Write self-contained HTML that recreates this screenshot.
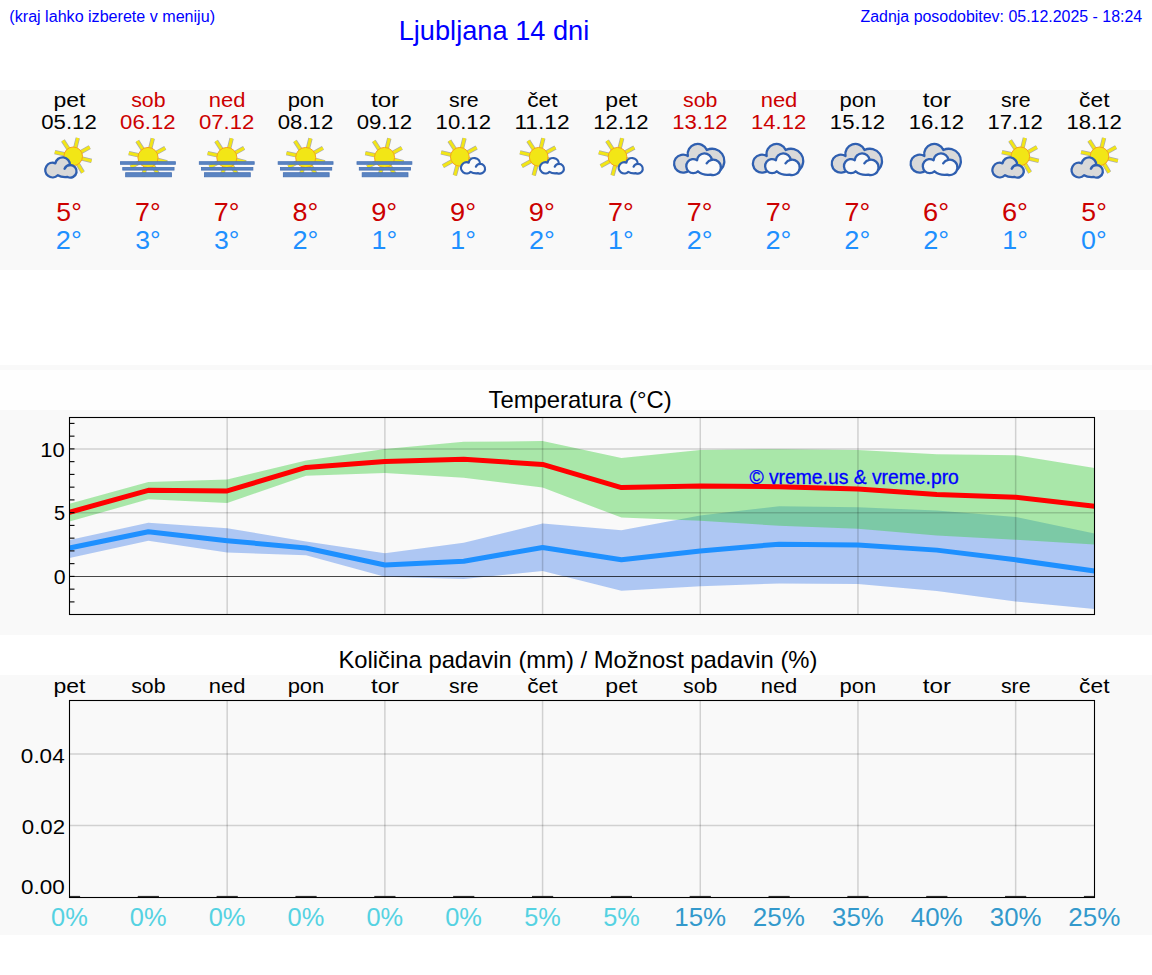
<!DOCTYPE html>
<html><head><meta charset="utf-8"><title>Ljubljana 14 dni</title>
<style>
html,body{margin:0;padding:0;background:#fff;width:1152px;height:975px;overflow:hidden}
svg{display:block;font-family:"Liberation Sans",sans-serif}
</style></head><body>
<svg width="1152" height="975" viewBox="0 0 1152 975">
<rect x="0" y="90" width="1152" height="180" fill="#f9f9f9"/>
<rect x="0" y="365" width="1152" height="5" fill="#f9f9f9"/>
<rect x="0" y="370" width="1152" height="40" fill="#fefefe"/>
<rect x="0" y="410" width="1152" height="225" fill="#f9f9f9"/>
<rect x="0" y="675" width="1152" height="260" fill="#f9f9f9"/>
<text x="9.39" y="21.60" font-size="16" fill="#0000ff" textLength="205.63" lengthAdjust="spacingAndGlyphs">(kraj lahko izberete v meniju)</text>
<text x="398.70" y="39.50" font-size="27.2" fill="#0000ff" textLength="190.57" lengthAdjust="spacingAndGlyphs">Ljubljana 14 dni</text>
<text x="860.50" y="21.50" font-size="16" fill="#0000ff" textLength="281.68" lengthAdjust="spacingAndGlyphs">Zadnja posodobitev: 05.12.2025 - 18:24</text>
<text x="53.45" y="106.80" font-size="20.0" fill="#000000" textLength="32.03" lengthAdjust="spacingAndGlyphs">pet</text>
<text x="41.27" y="128.90" font-size="20.0" fill="#000000" textLength="55.45" lengthAdjust="spacingAndGlyphs">05.12</text>
<text x="56.33" y="221.10" font-size="25.1" fill="#cc0000" textLength="25.45" lengthAdjust="spacingAndGlyphs">5°</text>
<text x="55.89" y="248.90" font-size="25.1" fill="#1e90ff" textLength="25.92" lengthAdjust="spacingAndGlyphs">2°</text>
<g transform="translate(0.00,0)">
<path d="M80.42 152.30L89.73 147.14 M75.20 148.30L77.77 137.96 M68.71 149.38L62.91 140.45 M65.16 154.44L54.78 152.05 M65.98 160.30L56.67 165.46 M71.06 164.27L68.31 174.56 M77.45 163.37L82.93 172.50 M81.20 158.30L91.54 160.87" stroke="#7a7a7a" stroke-opacity="0.6" stroke-width="4.4" fill="none"/>
<path d="M80.42 152.30L89.73 147.14 M75.20 148.30L77.77 137.96 M68.71 149.38L62.91 140.45 M65.16 154.44L54.78 152.05 M65.98 160.30L56.67 165.46 M71.06 164.27L68.31 174.56 M77.45 163.37L82.93 172.50 M81.20 158.30L91.54 160.87" stroke="#f2e616" stroke-width="2.9" fill="none"/>
<circle cx="73.20" cy="156.30" r="9.30" fill="#f2e616" stroke="#f4a21c" stroke-width="1"/>
<path d="M57.76,175.26 A7.30 7.30 0 1 1 55.33,163.33 A7.40 7.40 0 0 1 69.99,165.01 A6.30 6.30 0 1 1 67.64,177.01 Q61.50,177.70 57.76,175.26Z" fill="#d9d9d9" stroke="#2f5fb0" stroke-width="2.4" stroke-linejoin="round"/><path d="M69.99,165.01 A6.30 6.30 0 0 0 64.59,168.64" fill="none" stroke="#2f5fb0" stroke-width="2.4" stroke-linecap="round"/>
</g>
<text x="131.20" y="107.00" font-size="19.8" fill="#cc0000" textLength="34.33" lengthAdjust="spacingAndGlyphs">sob</text>
<text x="120.12" y="128.90" font-size="20.0" fill="#cc0000" textLength="55.45" lengthAdjust="spacingAndGlyphs">06.12</text>
<text x="134.95" y="221.00" font-size="25.1" fill="#cc0000" textLength="25.69" lengthAdjust="spacingAndGlyphs">7°</text>
<text x="135.18" y="249.00" font-size="25.1" fill="#1e90ff" textLength="25.45" lengthAdjust="spacingAndGlyphs">3°</text>
<g transform="translate(-0.05,0)">
<path d="M155.92 153.14L165.28 147.95 M150.23 148.77L152.82 138.39 M143.15 149.95L137.32 140.98 M139.28 155.48L128.85 153.07 M140.18 161.86L130.82 167.05 M145.72 166.19L142.95 176.53 M152.69 165.21L158.20 174.39 M156.78 159.68L167.16 162.27" stroke="#7a7a7a" stroke-opacity="0.6" stroke-width="4.4" fill="none"/>
<path d="M155.92 153.14L165.28 147.95 M150.23 148.77L152.82 138.39 M143.15 149.95L137.32 140.98 M139.28 155.48L128.85 153.07 M140.18 161.86L130.82 167.05 M145.72 166.19L142.95 176.53 M152.69 165.21L158.20 174.39 M156.78 159.68L167.16 162.27" stroke="#f2e616" stroke-width="2.9" fill="none"/>
<circle cx="148.05" cy="157.50" r="10.05" fill="#f2e616" stroke="#f4a21c" stroke-width="1"/>
<rect x="120.5" y="161.7" width="54.9" height="2.6" fill="#5a84c2" stroke="#4872b4" stroke-width="0.8"/>
<rect x="122.8" y="167.5" width="51.3" height="2.6" fill="#5a84c2" stroke="#4872b4" stroke-width="0.8"/>
<rect x="125.7" y="172.7" width="45.8" height="4.1" fill="#5a84c2" stroke="#4872b4" stroke-width="0.8"/>
</g>
<text x="208.80" y="107.00" font-size="19.8" fill="#cc0000" textLength="36.62" lengthAdjust="spacingAndGlyphs">ned</text>
<text x="198.97" y="128.90" font-size="20.0" fill="#cc0000" textLength="55.45" lengthAdjust="spacingAndGlyphs">07.12</text>
<text x="213.79" y="221.00" font-size="25.1" fill="#cc0000" textLength="25.69" lengthAdjust="spacingAndGlyphs">7°</text>
<text x="214.02" y="249.00" font-size="25.1" fill="#1e90ff" textLength="25.45" lengthAdjust="spacingAndGlyphs">3°</text>
<g transform="translate(78.79,0)">
<path d="M155.92 153.14L165.28 147.95 M150.23 148.77L152.82 138.39 M143.15 149.95L137.32 140.98 M139.28 155.48L128.85 153.07 M140.18 161.86L130.82 167.05 M145.72 166.19L142.95 176.53 M152.69 165.21L158.20 174.39 M156.78 159.68L167.16 162.27" stroke="#7a7a7a" stroke-opacity="0.6" stroke-width="4.4" fill="none"/>
<path d="M155.92 153.14L165.28 147.95 M150.23 148.77L152.82 138.39 M143.15 149.95L137.32 140.98 M139.28 155.48L128.85 153.07 M140.18 161.86L130.82 167.05 M145.72 166.19L142.95 176.53 M152.69 165.21L158.20 174.39 M156.78 159.68L167.16 162.27" stroke="#f2e616" stroke-width="2.9" fill="none"/>
<circle cx="148.05" cy="157.50" r="10.05" fill="#f2e616" stroke="#f4a21c" stroke-width="1"/>
<rect x="120.5" y="161.7" width="54.9" height="2.6" fill="#5a84c2" stroke="#4872b4" stroke-width="0.8"/>
<rect x="122.8" y="167.5" width="51.3" height="2.6" fill="#5a84c2" stroke="#4872b4" stroke-width="0.8"/>
<rect x="125.7" y="172.7" width="45.8" height="4.1" fill="#5a84c2" stroke="#4872b4" stroke-width="0.8"/>
</g>
<text x="287.65" y="107.00" font-size="19.4" fill="#000000" textLength="36.71" lengthAdjust="spacingAndGlyphs">pon</text>
<text x="277.81" y="128.90" font-size="20.0" fill="#000000" textLength="55.45" lengthAdjust="spacingAndGlyphs">08.12</text>
<text x="292.55" y="221.10" font-size="25.1" fill="#cc0000" textLength="25.79" lengthAdjust="spacingAndGlyphs">8°</text>
<text x="292.43" y="248.90" font-size="25.1" fill="#1e90ff" textLength="25.92" lengthAdjust="spacingAndGlyphs">2°</text>
<g transform="translate(157.64,0)">
<path d="M155.92 153.14L165.28 147.95 M150.23 148.77L152.82 138.39 M143.15 149.95L137.32 140.98 M139.28 155.48L128.85 153.07 M140.18 161.86L130.82 167.05 M145.72 166.19L142.95 176.53 M152.69 165.21L158.20 174.39 M156.78 159.68L167.16 162.27" stroke="#7a7a7a" stroke-opacity="0.6" stroke-width="4.4" fill="none"/>
<path d="M155.92 153.14L165.28 147.95 M150.23 148.77L152.82 138.39 M143.15 149.95L137.32 140.98 M139.28 155.48L128.85 153.07 M140.18 161.86L130.82 167.05 M145.72 166.19L142.95 176.53 M152.69 165.21L158.20 174.39 M156.78 159.68L167.16 162.27" stroke="#f2e616" stroke-width="2.9" fill="none"/>
<circle cx="148.05" cy="157.50" r="10.05" fill="#f2e616" stroke="#f4a21c" stroke-width="1"/>
<rect x="120.5" y="161.7" width="54.9" height="2.6" fill="#5a84c2" stroke="#4872b4" stroke-width="0.8"/>
<rect x="122.8" y="167.5" width="51.3" height="2.6" fill="#5a84c2" stroke="#4872b4" stroke-width="0.8"/>
<rect x="125.7" y="172.7" width="45.8" height="4.1" fill="#5a84c2" stroke="#4872b4" stroke-width="0.8"/>
</g>
<text x="370.92" y="107.00" font-size="20.6" fill="#000000" textLength="28.25" lengthAdjust="spacingAndGlyphs">tor</text>
<text x="356.66" y="128.90" font-size="20.0" fill="#000000" textLength="55.45" lengthAdjust="spacingAndGlyphs">09.12</text>
<text x="371.18" y="221.10" font-size="25.1" fill="#cc0000" textLength="26.02" lengthAdjust="spacingAndGlyphs">9°</text>
<text x="371.55" y="248.90" font-size="25.1" fill="#1e90ff" textLength="25.63" lengthAdjust="spacingAndGlyphs">1°</text>
<g transform="translate(236.48,0)">
<path d="M155.92 153.14L165.28 147.95 M150.23 148.77L152.82 138.39 M143.15 149.95L137.32 140.98 M139.28 155.48L128.85 153.07 M140.18 161.86L130.82 167.05 M145.72 166.19L142.95 176.53 M152.69 165.21L158.20 174.39 M156.78 159.68L167.16 162.27" stroke="#7a7a7a" stroke-opacity="0.6" stroke-width="4.4" fill="none"/>
<path d="M155.92 153.14L165.28 147.95 M150.23 148.77L152.82 138.39 M143.15 149.95L137.32 140.98 M139.28 155.48L128.85 153.07 M140.18 161.86L130.82 167.05 M145.72 166.19L142.95 176.53 M152.69 165.21L158.20 174.39 M156.78 159.68L167.16 162.27" stroke="#f2e616" stroke-width="2.9" fill="none"/>
<circle cx="148.05" cy="157.50" r="10.05" fill="#f2e616" stroke="#f4a21c" stroke-width="1"/>
<rect x="120.5" y="161.7" width="54.9" height="2.6" fill="#5a84c2" stroke="#4872b4" stroke-width="0.8"/>
<rect x="122.8" y="167.5" width="51.3" height="2.6" fill="#5a84c2" stroke="#4872b4" stroke-width="0.8"/>
<rect x="125.7" y="172.7" width="45.8" height="4.1" fill="#5a84c2" stroke="#4872b4" stroke-width="0.8"/>
</g>
<text x="448.98" y="107.00" font-size="19.8" fill="#000000" textLength="29.62" lengthAdjust="spacingAndGlyphs">sre</text>
<text x="435.63" y="128.90" font-size="20.0" fill="#000000" textLength="55.32" lengthAdjust="spacingAndGlyphs">10.12</text>
<text x="450.02" y="221.10" font-size="25.1" fill="#cc0000" textLength="26.02" lengthAdjust="spacingAndGlyphs">9°</text>
<text x="450.39" y="248.90" font-size="25.1" fill="#1e90ff" textLength="25.63" lengthAdjust="spacingAndGlyphs">1°</text>
<g transform="translate(-0.17,0)">
<path d="M467.26 152.78L476.79 147.49 M462.01 148.75L464.64 138.17 M455.48 149.84L449.54 140.70 M451.91 154.93L441.29 152.48 M452.74 160.82L443.21 166.11 M457.85 164.82L455.03 175.35 M464.27 163.91L469.89 173.26 M468.05 158.81L478.63 161.44" stroke="#7a7a7a" stroke-opacity="0.6" stroke-width="4.4" fill="none"/>
<path d="M467.26 152.78L476.79 147.49 M462.01 148.75L464.64 138.17 M455.48 149.84L449.54 140.70 M451.91 154.93L441.29 152.48 M452.74 160.82L443.21 166.11 M457.85 164.82L455.03 175.35 M464.27 163.91L469.89 173.26 M468.05 158.81L478.63 161.44" stroke="#f2e616" stroke-width="2.9" fill="none"/>
<circle cx="460.00" cy="156.80" r="9.35" fill="#f2e616" stroke="#f4a21c" stroke-width="1"/>
<path d="M470.80,171.83 A5.62 5.62 0 1 1 468.92,162.64 A5.70 5.70 0 0 1 480.21,163.93 A4.85 4.85 0 1 1 478.40,173.18 Q473.67,173.71 470.80,171.83Z" fill="#fafafa" stroke="#2f5fb0" stroke-width="2.2" stroke-linejoin="round"/><path d="M480.21,163.93 A4.85 4.85 0 0 0 476.05,166.73" fill="none" stroke="#2f5fb0" stroke-width="2.2" stroke-linecap="round"/>
</g>
<text x="527.17" y="107.00" font-size="20.7" fill="#000000" textLength="30.42" lengthAdjust="spacingAndGlyphs">čet</text>
<text x="514.42" y="128.80" font-size="19.9" fill="#000000" textLength="55.27" lengthAdjust="spacingAndGlyphs">11.12</text>
<text x="528.87" y="221.10" font-size="25.1" fill="#cc0000" textLength="26.02" lengthAdjust="spacingAndGlyphs">9°</text>
<text x="528.96" y="248.90" font-size="25.1" fill="#1e90ff" textLength="25.92" lengthAdjust="spacingAndGlyphs">2°</text>
<g transform="translate(78.68,0)">
<path d="M467.26 152.78L476.79 147.49 M462.01 148.75L464.64 138.17 M455.48 149.84L449.54 140.70 M451.91 154.93L441.29 152.48 M452.74 160.82L443.21 166.11 M457.85 164.82L455.03 175.35 M464.27 163.91L469.89 173.26 M468.05 158.81L478.63 161.44" stroke="#7a7a7a" stroke-opacity="0.6" stroke-width="4.4" fill="none"/>
<path d="M467.26 152.78L476.79 147.49 M462.01 148.75L464.64 138.17 M455.48 149.84L449.54 140.70 M451.91 154.93L441.29 152.48 M452.74 160.82L443.21 166.11 M457.85 164.82L455.03 175.35 M464.27 163.91L469.89 173.26 M468.05 158.81L478.63 161.44" stroke="#f2e616" stroke-width="2.9" fill="none"/>
<circle cx="460.00" cy="156.80" r="9.35" fill="#f2e616" stroke="#f4a21c" stroke-width="1"/>
<path d="M470.80,171.83 A5.62 5.62 0 1 1 468.92,162.64 A5.70 5.70 0 0 1 480.21,163.93 A4.85 4.85 0 1 1 478.40,173.18 Q473.67,173.71 470.80,171.83Z" fill="#fafafa" stroke="#2f5fb0" stroke-width="2.2" stroke-linejoin="round"/><path d="M480.21,163.93 A4.85 4.85 0 0 0 476.05,166.73" fill="none" stroke="#2f5fb0" stroke-width="2.2" stroke-linecap="round"/>
</g>
<text x="605.37" y="106.80" font-size="20.0" fill="#000000" textLength="32.03" lengthAdjust="spacingAndGlyphs">pet</text>
<text x="593.32" y="128.80" font-size="19.9" fill="#000000" textLength="55.27" lengthAdjust="spacingAndGlyphs">12.12</text>
<text x="608.02" y="221.00" font-size="25.1" fill="#cc0000" textLength="25.69" lengthAdjust="spacingAndGlyphs">7°</text>
<text x="608.09" y="248.90" font-size="25.1" fill="#1e90ff" textLength="25.63" lengthAdjust="spacingAndGlyphs">1°</text>
<g transform="translate(157.52,0)">
<path d="M467.26 152.78L476.79 147.49 M462.01 148.75L464.64 138.17 M455.48 149.84L449.54 140.70 M451.91 154.93L441.29 152.48 M452.74 160.82L443.21 166.11 M457.85 164.82L455.03 175.35 M464.27 163.91L469.89 173.26 M468.05 158.81L478.63 161.44" stroke="#7a7a7a" stroke-opacity="0.6" stroke-width="4.4" fill="none"/>
<path d="M467.26 152.78L476.79 147.49 M462.01 148.75L464.64 138.17 M455.48 149.84L449.54 140.70 M451.91 154.93L441.29 152.48 M452.74 160.82L443.21 166.11 M457.85 164.82L455.03 175.35 M464.27 163.91L469.89 173.26 M468.05 158.81L478.63 161.44" stroke="#f2e616" stroke-width="2.9" fill="none"/>
<circle cx="460.00" cy="156.80" r="9.35" fill="#f2e616" stroke="#f4a21c" stroke-width="1"/>
<path d="M470.80,171.83 A5.62 5.62 0 1 1 468.92,162.64 A5.70 5.70 0 0 1 480.21,163.93 A4.85 4.85 0 1 1 478.40,173.18 Q473.67,173.71 470.80,171.83Z" fill="#fafafa" stroke="#2f5fb0" stroke-width="2.2" stroke-linejoin="round"/><path d="M480.21,163.93 A4.85 4.85 0 0 0 476.05,166.73" fill="none" stroke="#2f5fb0" stroke-width="2.2" stroke-linecap="round"/>
</g>
<text x="683.12" y="107.00" font-size="19.8" fill="#cc0000" textLength="34.33" lengthAdjust="spacingAndGlyphs">sob</text>
<text x="672.17" y="128.90" font-size="20.0" fill="#cc0000" textLength="55.32" lengthAdjust="spacingAndGlyphs">13.12</text>
<text x="686.87" y="221.00" font-size="25.1" fill="#cc0000" textLength="25.69" lengthAdjust="spacingAndGlyphs">7°</text>
<text x="686.66" y="248.90" font-size="25.1" fill="#1e90ff" textLength="25.92" lengthAdjust="spacingAndGlyphs">2°</text>
<g transform="translate(-0.33,0)">
<path d="M690.29,169.39 A9.00 9.00 0 1 1 688.20,155.99 A10.00 10.00 0 0 1 707.18,150.02 A12.20 12.20 0 0 1 721.13,169.63 L712,170 L693,170 Z" fill="#d9d9d9" stroke="#2f5fb0" stroke-width="2.3" stroke-linejoin="round"/>
<path d="M698.28,171.30 A7.00 7.00 0 1 1 697.42,160.24 A7.40 7.40 0 0 1 712.14,159.82 A7.70 7.70 0 1 1 710.87,174.64 Q703.50,175.60 698.28,171.30Z" fill="#fafafa" stroke="#2f5fb0" stroke-width="2.3" stroke-linejoin="round"/><path d="M712.14,159.82 A7.70 7.70 0 0 0 706.97,163.32" fill="none" stroke="#2f5fb0" stroke-width="2.3" stroke-linecap="round"/>
</g>
<text x="760.73" y="107.00" font-size="19.8" fill="#cc0000" textLength="36.62" lengthAdjust="spacingAndGlyphs">ned</text>
<text x="751.01" y="128.80" font-size="19.9" fill="#cc0000" textLength="55.27" lengthAdjust="spacingAndGlyphs">14.12</text>
<text x="765.72" y="221.00" font-size="25.1" fill="#cc0000" textLength="25.69" lengthAdjust="spacingAndGlyphs">7°</text>
<text x="765.50" y="248.90" font-size="25.1" fill="#1e90ff" textLength="25.92" lengthAdjust="spacingAndGlyphs">2°</text>
<g transform="translate(78.52,0)">
<path d="M690.29,169.39 A9.00 9.00 0 1 1 688.20,155.99 A10.00 10.00 0 0 1 707.18,150.02 A12.20 12.20 0 0 1 721.13,169.63 L712,170 L693,170 Z" fill="#d9d9d9" stroke="#2f5fb0" stroke-width="2.3" stroke-linejoin="round"/>
<path d="M698.28,171.30 A7.00 7.00 0 1 1 697.42,160.24 A7.40 7.40 0 0 1 712.14,159.82 A7.70 7.70 0 1 1 710.87,174.64 Q703.50,175.60 698.28,171.30Z" fill="#fafafa" stroke="#2f5fb0" stroke-width="2.3" stroke-linejoin="round"/><path d="M712.14,159.82 A7.70 7.70 0 0 0 706.97,163.32" fill="none" stroke="#2f5fb0" stroke-width="2.3" stroke-linecap="round"/>
</g>
<text x="839.57" y="107.00" font-size="19.4" fill="#000000" textLength="36.71" lengthAdjust="spacingAndGlyphs">pon</text>
<text x="829.86" y="128.90" font-size="20.0" fill="#000000" textLength="55.32" lengthAdjust="spacingAndGlyphs">15.12</text>
<text x="844.56" y="221.00" font-size="25.1" fill="#cc0000" textLength="25.69" lengthAdjust="spacingAndGlyphs">7°</text>
<text x="844.35" y="248.90" font-size="25.1" fill="#1e90ff" textLength="25.92" lengthAdjust="spacingAndGlyphs">2°</text>
<g transform="translate(157.36,0)">
<path d="M690.29,169.39 A9.00 9.00 0 1 1 688.20,155.99 A10.00 10.00 0 0 1 707.18,150.02 A12.20 12.20 0 0 1 721.13,169.63 L712,170 L693,170 Z" fill="#d9d9d9" stroke="#2f5fb0" stroke-width="2.3" stroke-linejoin="round"/>
<path d="M698.28,171.30 A7.00 7.00 0 1 1 697.42,160.24 A7.40 7.40 0 0 1 712.14,159.82 A7.70 7.70 0 1 1 710.87,174.64 Q703.50,175.60 698.28,171.30Z" fill="#fafafa" stroke="#2f5fb0" stroke-width="2.3" stroke-linejoin="round"/><path d="M712.14,159.82 A7.70 7.70 0 0 0 706.97,163.32" fill="none" stroke="#2f5fb0" stroke-width="2.3" stroke-linecap="round"/>
</g>
<text x="922.85" y="107.00" font-size="20.6" fill="#000000" textLength="28.25" lengthAdjust="spacingAndGlyphs">tor</text>
<text x="908.71" y="128.90" font-size="20.0" fill="#000000" textLength="55.32" lengthAdjust="spacingAndGlyphs">16.12</text>
<text x="923.09" y="221.10" font-size="25.1" fill="#cc0000" textLength="26.03" lengthAdjust="spacingAndGlyphs">6°</text>
<text x="923.20" y="248.90" font-size="25.1" fill="#1e90ff" textLength="25.92" lengthAdjust="spacingAndGlyphs">2°</text>
<g transform="translate(236.21,0)">
<path d="M690.29,169.39 A9.00 9.00 0 1 1 688.20,155.99 A10.00 10.00 0 0 1 707.18,150.02 A12.20 12.20 0 0 1 721.13,169.63 L712,170 L693,170 Z" fill="#d9d9d9" stroke="#2f5fb0" stroke-width="2.3" stroke-linejoin="round"/>
<path d="M698.28,171.30 A7.00 7.00 0 1 1 697.42,160.24 A7.40 7.40 0 0 1 712.14,159.82 A7.70 7.70 0 1 1 710.87,174.64 Q703.50,175.60 698.28,171.30Z" fill="#fafafa" stroke="#2f5fb0" stroke-width="2.3" stroke-linejoin="round"/><path d="M712.14,159.82 A7.70 7.70 0 0 0 706.97,163.32" fill="none" stroke="#2f5fb0" stroke-width="2.3" stroke-linecap="round"/>
</g>
<text x="1000.91" y="107.00" font-size="19.8" fill="#000000" textLength="29.62" lengthAdjust="spacingAndGlyphs">sre</text>
<text x="987.55" y="128.80" font-size="19.9" fill="#000000" textLength="55.27" lengthAdjust="spacingAndGlyphs">17.12</text>
<text x="1001.94" y="221.10" font-size="25.1" fill="#cc0000" textLength="26.03" lengthAdjust="spacingAndGlyphs">6°</text>
<text x="1002.32" y="248.90" font-size="25.1" fill="#1e90ff" textLength="25.63" lengthAdjust="spacingAndGlyphs">1°</text>
<g transform="translate(947.15,0)">
<path d="M80.42 152.30L89.73 147.14 M75.20 148.30L77.77 137.96 M68.71 149.38L62.91 140.45 M65.16 154.44L54.78 152.05 M65.98 160.30L56.67 165.46 M71.06 164.27L68.31 174.56 M77.45 163.37L82.93 172.50 M81.20 158.30L91.54 160.87" stroke="#7a7a7a" stroke-opacity="0.6" stroke-width="4.4" fill="none"/>
<path d="M80.42 152.30L89.73 147.14 M75.20 148.30L77.77 137.96 M68.71 149.38L62.91 140.45 M65.16 154.44L54.78 152.05 M65.98 160.30L56.67 165.46 M71.06 164.27L68.31 174.56 M77.45 163.37L82.93 172.50 M81.20 158.30L91.54 160.87" stroke="#f2e616" stroke-width="2.9" fill="none"/>
<circle cx="73.20" cy="156.30" r="9.30" fill="#f2e616" stroke="#f4a21c" stroke-width="1"/>
<path d="M57.76,175.26 A7.30 7.30 0 1 1 55.33,163.33 A7.40 7.40 0 0 1 69.99,165.01 A6.30 6.30 0 1 1 67.64,177.01 Q61.50,177.70 57.76,175.26Z" fill="#d9d9d9" stroke="#2f5fb0" stroke-width="2.4" stroke-linejoin="round"/><path d="M69.99,165.01 A6.30 6.30 0 0 0 64.59,168.64" fill="none" stroke="#2f5fb0" stroke-width="2.4" stroke-linecap="round"/>
</g>
<text x="1079.09" y="107.00" font-size="20.7" fill="#000000" textLength="30.42" lengthAdjust="spacingAndGlyphs">čet</text>
<text x="1066.40" y="128.90" font-size="20.0" fill="#000000" textLength="55.32" lengthAdjust="spacingAndGlyphs">18.12</text>
<text x="1081.33" y="221.10" font-size="25.1" fill="#cc0000" textLength="25.45" lengthAdjust="spacingAndGlyphs">5°</text>
<text x="1081.12" y="249.00" font-size="25.1" fill="#1e90ff" textLength="25.67" lengthAdjust="spacingAndGlyphs">0°</text>
<g transform="translate(1026.30,0)">
<path d="M80.42 152.30L89.73 147.14 M75.20 148.30L77.77 137.96 M68.71 149.38L62.91 140.45 M65.16 154.44L54.78 152.05 M65.98 160.30L56.67 165.46 M71.06 164.27L68.31 174.56 M77.45 163.37L82.93 172.50 M81.20 158.30L91.54 160.87" stroke="#7a7a7a" stroke-opacity="0.6" stroke-width="4.4" fill="none"/>
<path d="M80.42 152.30L89.73 147.14 M75.20 148.30L77.77 137.96 M68.71 149.38L62.91 140.45 M65.16 154.44L54.78 152.05 M65.98 160.30L56.67 165.46 M71.06 164.27L68.31 174.56 M77.45 163.37L82.93 172.50 M81.20 158.30L91.54 160.87" stroke="#f2e616" stroke-width="2.9" fill="none"/>
<circle cx="73.20" cy="156.30" r="9.30" fill="#f2e616" stroke="#f4a21c" stroke-width="1"/>
<path d="M57.76,175.26 A7.30 7.30 0 1 1 55.33,163.33 A7.40 7.40 0 0 1 69.99,165.01 A6.30 6.30 0 1 1 67.64,177.01 Q61.50,177.70 57.76,175.26Z" fill="#d9d9d9" stroke="#2f5fb0" stroke-width="2.4" stroke-linejoin="round"/><path d="M69.99,165.01 A6.30 6.30 0 0 0 64.59,168.64" fill="none" stroke="#2f5fb0" stroke-width="2.4" stroke-linecap="round"/>
</g>
<text x="488.50" y="407.60" font-size="23.8" fill="#000" textLength="183.17" lengthAdjust="spacingAndGlyphs">Temperatura (°C)</text>
<clipPath id="tclip"><rect x="69.5" y="417.5" width="1025.0" height="197.0"/></clipPath>
<g clip-path="url(#tclip)">
<polygon points="69.50,540.06 148.35,522.85 227.19,528.20 306.04,541.59 384.88,553.32 463.73,542.87 542.58,523.49 621.42,530.37 700.27,515.45 779.12,506.15 857.96,507.17 936.81,510.61 1015.65,516.99 1094.50,533.56 1094.50,609.04 1015.65,601.52 936.81,591.06 857.96,584.05 779.12,583.41 700.27,586.35 621.42,590.81 542.58,571.04 463.73,578.95 384.88,576.65 306.04,555.36 227.19,552.43 148.35,540.70 69.50,557.91" fill="#6495ed" fill-opacity="0.5"/>
<polygon points="69.50,503.72 148.35,482.05 227.19,479.50 306.04,460.38 384.88,448.90 463.73,441.76 542.58,441.12 621.42,457.95 700.27,449.92 779.12,449.15 857.96,449.92 936.81,454.25 1015.65,455.27 1094.50,467.90 1094.50,544.40 1015.65,539.68 936.81,535.60 857.96,528.84 779.12,525.78 700.27,520.81 621.42,517.62 542.58,487.53 463.73,477.71 384.88,473.12 306.04,475.67 227.19,503.09 148.35,499.26 69.50,521.57" fill="#32cd32" fill-opacity="0.4"/>
<line x1="227.19" y1="417.5" x2="227.19" y2="614.5" stroke="#000" stroke-opacity="0.16" stroke-width="1.5"/>
<line x1="384.88" y1="417.5" x2="384.88" y2="614.5" stroke="#000" stroke-opacity="0.16" stroke-width="1.5"/>
<line x1="542.58" y1="417.5" x2="542.58" y2="614.5" stroke="#000" stroke-opacity="0.16" stroke-width="1.5"/>
<line x1="700.27" y1="417.5" x2="700.27" y2="614.5" stroke="#000" stroke-opacity="0.16" stroke-width="1.5"/>
<line x1="857.96" y1="417.5" x2="857.96" y2="614.5" stroke="#000" stroke-opacity="0.16" stroke-width="1.5"/>
<line x1="1015.65" y1="417.5" x2="1015.65" y2="614.5" stroke="#000" stroke-opacity="0.16" stroke-width="1.5"/>
<line x1="69.5" y1="512.65" x2="1094.5" y2="512.65" stroke="#000" stroke-opacity="0.16" stroke-width="1.5"/>
<line x1="69.5" y1="448.90" x2="1094.5" y2="448.90" stroke="#000" stroke-opacity="0.16" stroke-width="1.5"/>
<line x1="69.5" y1="576.40" x2="1094.5" y2="576.40" stroke="#000" stroke-opacity="0.72" stroke-width="1.05"/>
<polyline points="69.50,512.27 148.35,490.34 227.19,490.97 306.04,467.39 384.88,461.52 463.73,459.35 542.58,464.45 621.42,487.53 700.27,486.00 779.12,486.64 857.96,488.93 936.81,494.42 1015.65,497.22 1094.50,506.15" fill="none" stroke="#ff0000" stroke-width="5" stroke-linejoin="round"/>
<polyline points="69.50,547.97 148.35,531.77 227.19,540.70 306.04,547.97 384.88,565.05 463.73,561.23 542.58,547.46 621.42,559.82 700.27,550.90 779.12,544.14 857.96,545.03 936.81,550.13 1015.65,559.82 1094.50,571.04" fill="none" stroke="#1e90ff" stroke-width="5" stroke-linejoin="round"/>
</g>
<line x1="69.5" y1="601.90" x2="74.5" y2="601.90" stroke="#000" stroke-width="1.1"/>
<line x1="69.5" y1="589.15" x2="74.5" y2="589.15" stroke="#000" stroke-width="1.1"/>
<line x1="69.5" y1="576.40" x2="74.5" y2="576.40" stroke="#000" stroke-width="1.1"/>
<line x1="69.5" y1="563.65" x2="74.5" y2="563.65" stroke="#000" stroke-width="1.1"/>
<line x1="69.5" y1="550.90" x2="74.5" y2="550.90" stroke="#000" stroke-width="1.1"/>
<line x1="69.5" y1="538.15" x2="74.5" y2="538.15" stroke="#000" stroke-width="1.1"/>
<line x1="69.5" y1="525.40" x2="74.5" y2="525.40" stroke="#000" stroke-width="1.1"/>
<line x1="69.5" y1="512.65" x2="74.5" y2="512.65" stroke="#000" stroke-width="1.1"/>
<line x1="69.5" y1="499.90" x2="74.5" y2="499.90" stroke="#000" stroke-width="1.1"/>
<line x1="69.5" y1="487.15" x2="74.5" y2="487.15" stroke="#000" stroke-width="1.1"/>
<line x1="69.5" y1="474.40" x2="74.5" y2="474.40" stroke="#000" stroke-width="1.1"/>
<line x1="69.5" y1="461.65" x2="74.5" y2="461.65" stroke="#000" stroke-width="1.1"/>
<line x1="69.5" y1="448.90" x2="74.5" y2="448.90" stroke="#000" stroke-width="1.1"/>
<line x1="69.5" y1="436.15" x2="74.5" y2="436.15" stroke="#000" stroke-width="1.1"/>
<line x1="69.5" y1="423.40" x2="74.5" y2="423.40" stroke="#000" stroke-width="1.1"/>
<rect x="69.5" y="417.5" width="1025.0" height="197.0" fill="none" stroke="#000" stroke-width="1.1"/>
<text x="40.22" y="456.65" font-size="19.6" fill="#000" textLength="24.48" lengthAdjust="spacingAndGlyphs">10</text>
<text x="53.98" y="520.15" font-size="19.6" fill="#000" textLength="11.13" lengthAdjust="spacingAndGlyphs">5</text>
<text x="53.73" y="584.20" font-size="19.6" fill="#000" textLength="11.84" lengthAdjust="spacingAndGlyphs">0</text>
<text stroke="#0000ff" stroke-width="0.3" x="749.40" y="483.70" font-size="19.4" fill="#0000ff" textLength="209.41" lengthAdjust="spacingAndGlyphs">© vreme.us &amp; vreme.pro</text>
<text x="338.40" y="667.60" font-size="23.8" fill="#000" textLength="479.03" lengthAdjust="spacingAndGlyphs">Količina padavin (mm) / Možnost padavin (%)</text>
<text x="53.45" y="692.90" font-size="20.0" fill="#000" textLength="32.03" lengthAdjust="spacingAndGlyphs">pet</text>
<text x="131.20" y="693.10" font-size="19.8" fill="#000" textLength="34.33" lengthAdjust="spacingAndGlyphs">sob</text>
<text x="208.80" y="693.10" font-size="19.8" fill="#000" textLength="36.62" lengthAdjust="spacingAndGlyphs">ned</text>
<text x="287.65" y="693.10" font-size="19.4" fill="#000" textLength="36.71" lengthAdjust="spacingAndGlyphs">pon</text>
<text x="370.92" y="693.10" font-size="20.6" fill="#000" textLength="28.25" lengthAdjust="spacingAndGlyphs">tor</text>
<text x="448.98" y="693.10" font-size="19.8" fill="#000" textLength="29.62" lengthAdjust="spacingAndGlyphs">sre</text>
<text x="527.17" y="693.10" font-size="20.7" fill="#000" textLength="30.42" lengthAdjust="spacingAndGlyphs">čet</text>
<text x="605.37" y="692.90" font-size="20.0" fill="#000" textLength="32.03" lengthAdjust="spacingAndGlyphs">pet</text>
<text x="683.12" y="693.10" font-size="19.8" fill="#000" textLength="34.33" lengthAdjust="spacingAndGlyphs">sob</text>
<text x="760.73" y="693.10" font-size="19.8" fill="#000" textLength="36.62" lengthAdjust="spacingAndGlyphs">ned</text>
<text x="839.57" y="693.10" font-size="19.4" fill="#000" textLength="36.71" lengthAdjust="spacingAndGlyphs">pon</text>
<text x="922.85" y="693.10" font-size="20.6" fill="#000" textLength="28.25" lengthAdjust="spacingAndGlyphs">tor</text>
<text x="1000.91" y="693.10" font-size="19.8" fill="#000" textLength="29.62" lengthAdjust="spacingAndGlyphs">sre</text>
<text x="1079.09" y="693.10" font-size="20.7" fill="#000" textLength="30.42" lengthAdjust="spacingAndGlyphs">čet</text>
<line x1="227.19" y1="700.5" x2="227.19" y2="897.5" stroke="#000" stroke-opacity="0.16" stroke-width="1.5"/>
<line x1="384.88" y1="700.5" x2="384.88" y2="897.5" stroke="#000" stroke-opacity="0.16" stroke-width="1.5"/>
<line x1="542.58" y1="700.5" x2="542.58" y2="897.5" stroke="#000" stroke-opacity="0.16" stroke-width="1.5"/>
<line x1="700.27" y1="700.5" x2="700.27" y2="897.5" stroke="#000" stroke-opacity="0.16" stroke-width="1.5"/>
<line x1="857.96" y1="700.5" x2="857.96" y2="897.5" stroke="#000" stroke-opacity="0.16" stroke-width="1.5"/>
<line x1="1015.65" y1="700.5" x2="1015.65" y2="897.5" stroke="#000" stroke-opacity="0.16" stroke-width="1.5"/>
<line x1="69.5" y1="753.9" x2="1094.5" y2="753.9" stroke="#000" stroke-opacity="0.16" stroke-width="1.5"/>
<line x1="69.5" y1="825.6" x2="1094.5" y2="825.6" stroke="#000" stroke-opacity="0.16" stroke-width="1.5"/>
<line x1="69.50" y1="896.9" x2="80.10" y2="896.9" stroke="#333" stroke-width="2"/>
<line x1="137.75" y1="896.9" x2="158.95" y2="896.9" stroke="#333" stroke-width="2"/>
<line x1="216.59" y1="896.9" x2="237.79" y2="896.9" stroke="#333" stroke-width="2"/>
<line x1="295.44" y1="896.9" x2="316.64" y2="896.9" stroke="#333" stroke-width="2"/>
<line x1="374.28" y1="896.9" x2="395.48" y2="896.9" stroke="#333" stroke-width="2"/>
<line x1="453.13" y1="896.9" x2="474.33" y2="896.9" stroke="#333" stroke-width="2"/>
<line x1="531.98" y1="896.9" x2="553.18" y2="896.9" stroke="#333" stroke-width="2"/>
<line x1="610.82" y1="896.9" x2="632.02" y2="896.9" stroke="#333" stroke-width="2"/>
<line x1="689.67" y1="896.9" x2="710.87" y2="896.9" stroke="#333" stroke-width="2"/>
<line x1="768.52" y1="896.9" x2="789.72" y2="896.9" stroke="#333" stroke-width="2"/>
<line x1="847.36" y1="896.9" x2="868.56" y2="896.9" stroke="#333" stroke-width="2"/>
<line x1="926.21" y1="896.9" x2="947.41" y2="896.9" stroke="#333" stroke-width="2"/>
<line x1="1005.05" y1="896.9" x2="1026.25" y2="896.9" stroke="#333" stroke-width="2"/>
<line x1="1083.90" y1="896.9" x2="1094.50" y2="896.9" stroke="#333" stroke-width="2"/>
<rect x="69.5" y="700.5" width="1025.0" height="197.0" fill="none" stroke="#000" stroke-width="1.1"/>
<text x="20.88" y="762.70" font-size="19.6" fill="#000" textLength="43.76" lengthAdjust="spacingAndGlyphs">0.04</text>
<text x="21.79" y="833.75" font-size="19.6" fill="#000" textLength="43.29" lengthAdjust="spacingAndGlyphs">0.02</text>
<text x="21.08" y="893.65" font-size="19.6" fill="#000" textLength="43.79" lengthAdjust="spacingAndGlyphs">0.00</text>
<text x="51.02" y="926.20" font-size="25.4" fill="#55d2e2" textLength="36.71" lengthAdjust="spacingAndGlyphs">0%</text>
<text x="129.87" y="926.20" font-size="25.4" fill="#55d2e2" textLength="36.71" lengthAdjust="spacingAndGlyphs">0%</text>
<text x="208.71" y="926.20" font-size="25.4" fill="#55d2e2" textLength="36.71" lengthAdjust="spacingAndGlyphs">0%</text>
<text x="287.56" y="926.20" font-size="25.4" fill="#55d2e2" textLength="36.71" lengthAdjust="spacingAndGlyphs">0%</text>
<text x="366.41" y="926.20" font-size="25.4" fill="#55d2e2" textLength="36.71" lengthAdjust="spacingAndGlyphs">0%</text>
<text x="445.25" y="926.20" font-size="25.4" fill="#55d2e2" textLength="36.71" lengthAdjust="spacingAndGlyphs">0%</text>
<text x="524.31" y="926.10" font-size="25.6" fill="#55d2e2" textLength="36.58" lengthAdjust="spacingAndGlyphs">5%</text>
<text x="603.16" y="926.10" font-size="25.6" fill="#55d2e2" textLength="36.58" lengthAdjust="spacingAndGlyphs">5%</text>
<text x="674.30" y="926.10" font-size="25.6" fill="#3399cc" textLength="51.87" lengthAdjust="spacingAndGlyphs">15%</text>
<text x="752.83" y="926.20" font-size="25.4" fill="#3399cc" textLength="52.09" lengthAdjust="spacingAndGlyphs">25%</text>
<text x="832.10" y="926.20" font-size="25.4" fill="#3399cc" textLength="51.67" lengthAdjust="spacingAndGlyphs">35%</text>
<text x="910.75" y="926.20" font-size="25.4" fill="#3399cc" textLength="51.87" lengthAdjust="spacingAndGlyphs">40%</text>
<text x="989.79" y="926.20" font-size="25.4" fill="#3399cc" textLength="51.67" lengthAdjust="spacingAndGlyphs">30%</text>
<text x="1068.22" y="926.20" font-size="25.4" fill="#3399cc" textLength="52.09" lengthAdjust="spacingAndGlyphs">25%</text>
</svg>
</body></html>
